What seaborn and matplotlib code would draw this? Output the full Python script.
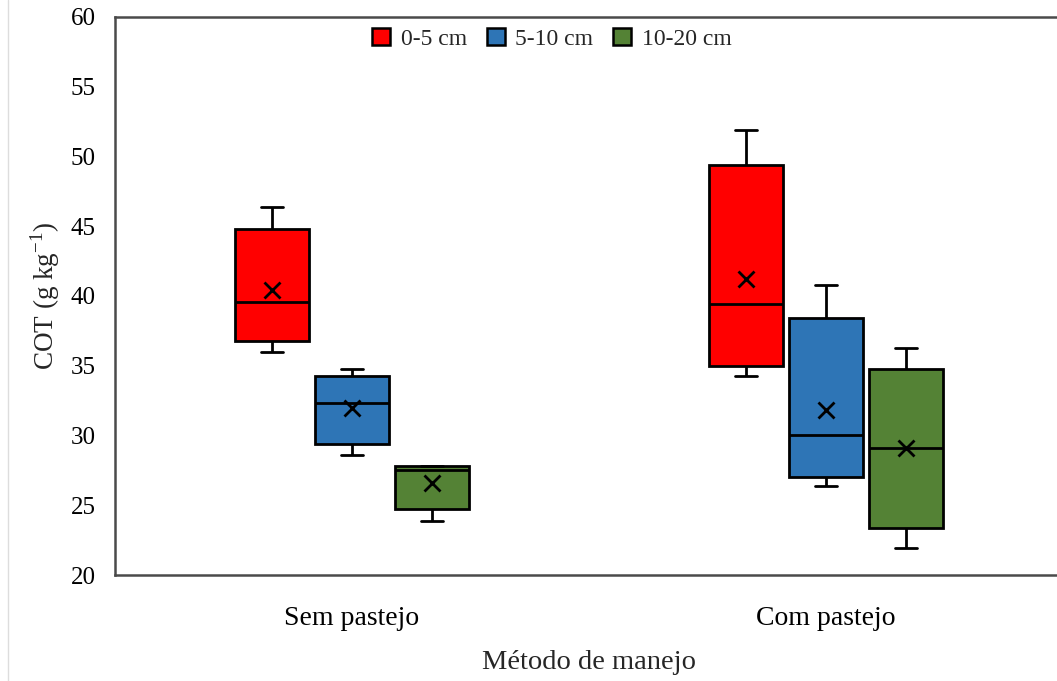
import matplotlib
matplotlib.use("Agg")
import matplotlib.pyplot as plt
import numpy as np
import pandas as pd
import seaborn as sns
from matplotlib.lines import Line2D
from matplotlib.patches import Patch

# valores (g kg-1)
manejos = ["Sem pastejo", "Com pastejo"]
camadas = ["0-5 cm", "5-10 cm", "10-20 cm"]
cores = ["#FF0000", "#2E75B6", "#548235"]

# ordem: Sem pastejo (0-5, 5-10, 10-20), Com pastejo (0-5, 5-10, 10-20)
minimo = [36.0, 28.6, 23.9, 34.3, 26.4, 21.9]
q1 = [36.8, 29.4, 24.7, 35.0, 27.0, 23.4]
mediana = [39.6, 32.3, 27.5, 39.4, 30.0, 29.1]
q3 = [44.8, 34.3, 27.8, 49.4, 38.4, 34.8]
maximo = [46.4, 34.8, 27.8, 51.9, 40.8, 36.3]
media = [40.4, 32.0, 26.6, 41.2, 31.8, 29.1]

grupos = [(m, c) for m in manejos for c in camadas]
linhas = []
for (m, c), stats in zip(grupos, zip(minimo, q1, mediana, q3, maximo)):
    for v in stats:
        linhas.append({"manejo": m, "camada": c, "cot": v})
dados = pd.DataFrame(linhas)
medias = pd.DataFrame({"manejo": [g[0] for g in grupos],
                       "camada": [g[1] for g in grupos], "cot": media})

sns.set_theme(style="white")
plt.rcParams["font.family"] = ["Liberation Serif", "DejaVu Serif"]
plt.rcParams["mathtext.fontset"] = "custom"
plt.rcParams["mathtext.rm"] = "Liberation Serif"

fig = plt.figure(figsize=(10.57, 6.81), dpi=100)
ax = fig.add_axes([115 / 1057, 1 - 575 / 681, 948 / 1057, 558 / 681])

largura = 0.506
sns.boxplot(data=dados, x="manejo", y="cot", hue="camada", order=manejos,
            hue_order=camadas, palette=cores, saturation=1, width=largura, gap=0.075,
            whis=(0, 100), linewidth=2.0, linecolor="black", legend=False,
            capwidths=0.047, ax=ax)
sns.pointplot(data=medias, x="manejo", y="cot", hue="camada", order=manejos,
              hue_order=camadas, palette=["black"] * 3, dodge=largura * 2 / 3,
              markers="x", linestyles="none", errorbar=None, legend=False,
              markersize=12, markeredgewidth=2.0, ax=ax)

ax.set_xlim(-0.5, 1.5)
ax.set_ylim(20, 60)
ax.set_yticks(np.arange(20, 61, 5))
ax.tick_params(axis="both", length=0, colors="black")
ax.tick_params(axis="x", pad=22, labelsize=20)
ax.tick_params(axis="y", pad=14, labelsize=18)
ax.set_xlabel("Método de manejo", fontsize=20.5, labelpad=14)
ax.set_ylabel("COT (g kg$^{\\mathregular{-1}}$)", fontsize=19.5, labelpad=6)

for lado in ["left", "bottom", "top"]:
    ax.spines[lado].set_color("#4a4a4a")
    ax.spines[lado].set_linewidth(1.8)
ax.spines["right"].set_visible(False)

alcas = [Patch(facecolor=c, edgecolor="black", linewidth=1.8) for c in cores]
fig.legend(alcas, camadas, loc="center", bbox_to_anchor=(552 / 1057, 1 - 39 / 681),
           ncol=3, frameon=False, fontsize=17, handlelength=0.75, handleheight=0.75,
           handletextpad=0.45, columnspacing=0.85)

fig.add_artist(Line2D([8 / 1057, 8 / 1057], [0, 1], color="#dddddd", lw=1))

fig.savefig("out.png", dpi=100)
